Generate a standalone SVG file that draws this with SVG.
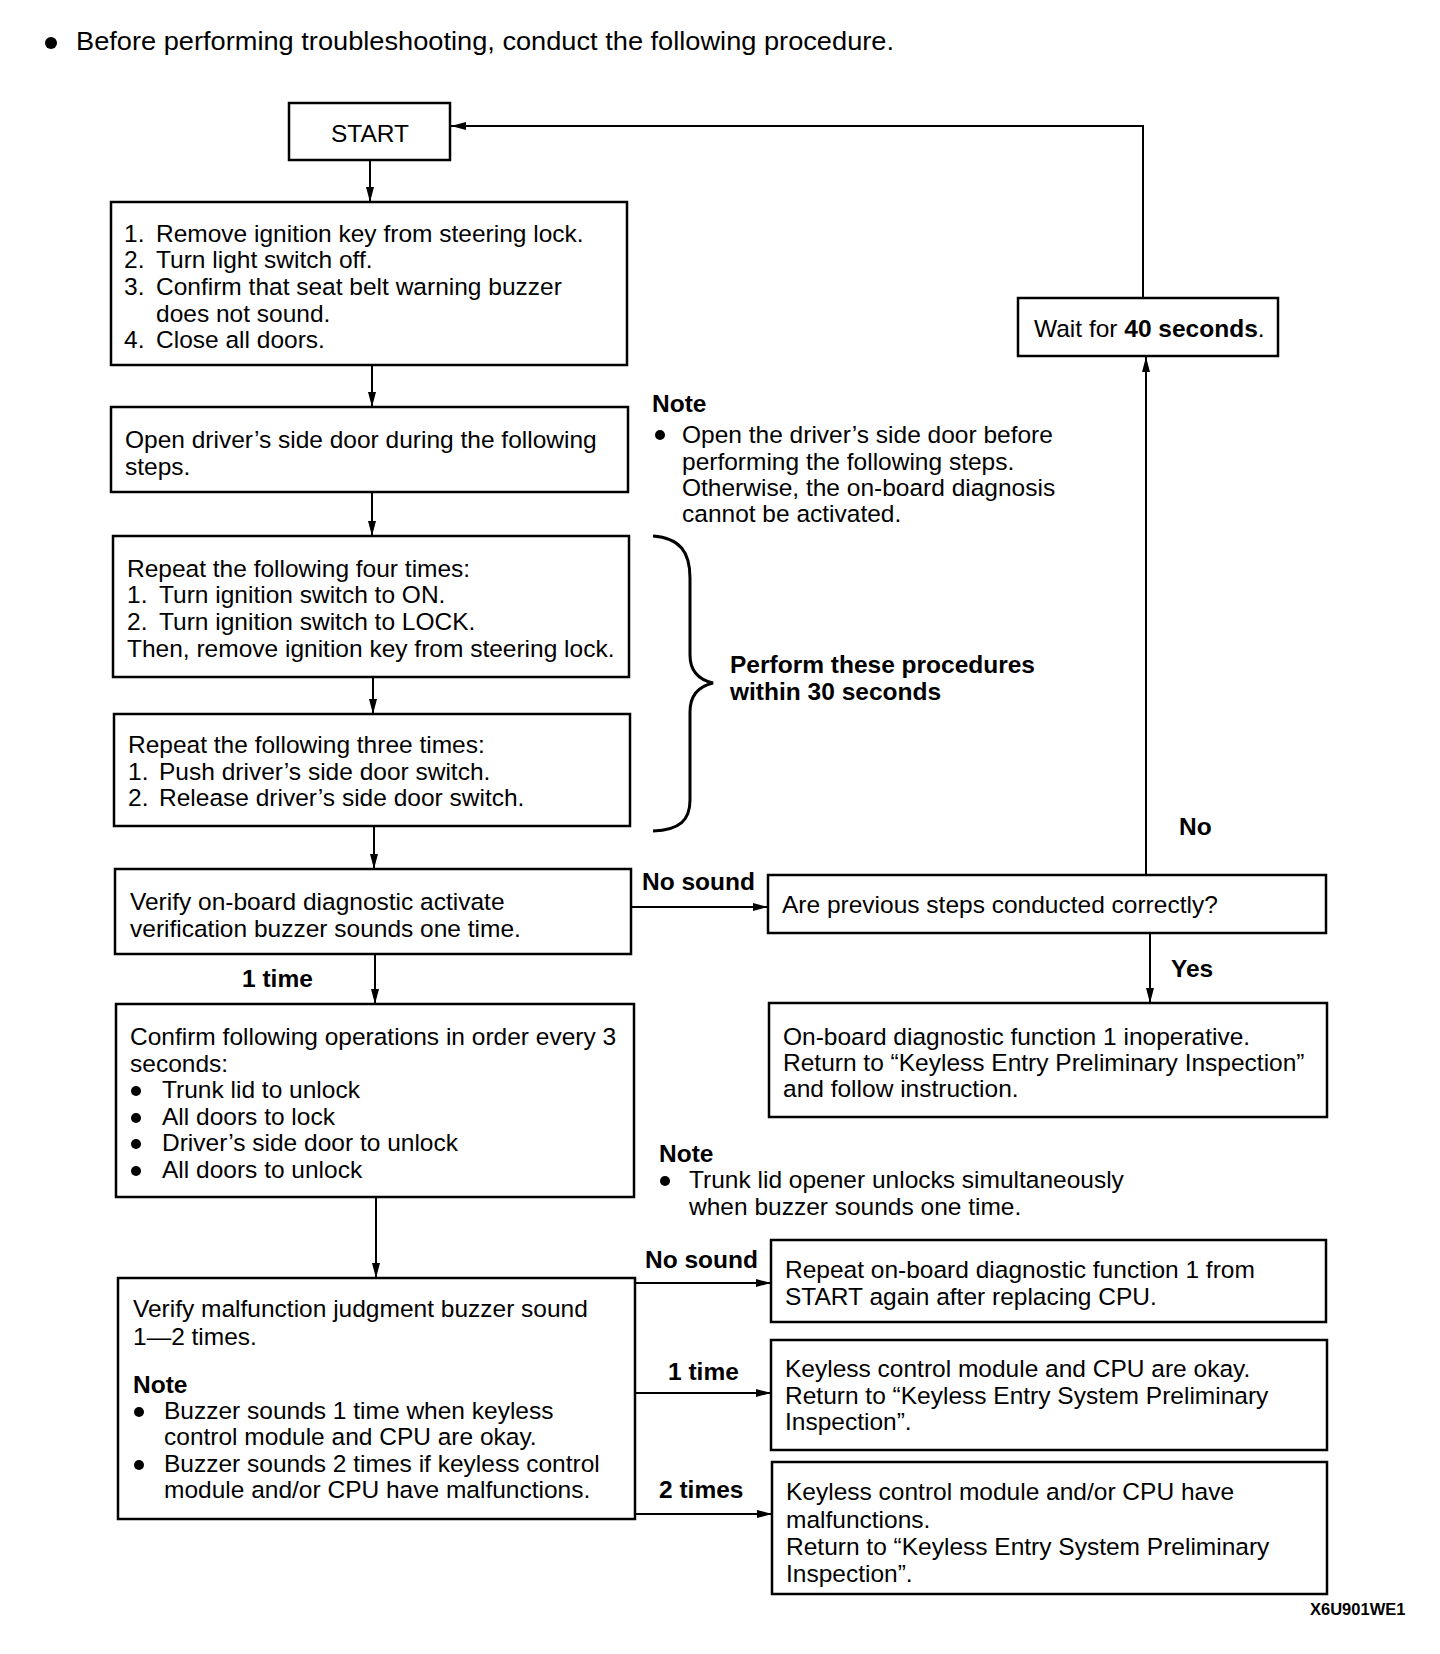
<svg xmlns="http://www.w3.org/2000/svg" width="1440" height="1654" viewBox="0 0 1440 1654">
<style>
text{font-family:"Liberation Sans",Arial,Helvetica,sans-serif;font-size:24.5px;fill:#000}
.b{font-weight:bold;font-size:24.5px}
.ttl{font-size:26px}
.code{font-weight:bold;font-size:16.5px}
.box{fill:#fff;stroke:#000;stroke-width:2.5}
.ln{stroke:#000;stroke-width:2;fill:none}
.dot{fill:#000}
</style>
<defs>
<marker id="ah" markerUnits="userSpaceOnUse" markerWidth="16" markerHeight="10" refX="15" refY="5" orient="auto">
<path d="M0,1 L15,5 L0,9 z" fill="#000"/>
</marker>
</defs>
<rect width="1440" height="1654" fill="#fff"/>

<g id="title">
<circle class="dot" cx="51" cy="43" r="6"/>
<text class="ttl" x="76" y="50" textLength="818" lengthAdjust="spacingAndGlyphs">Before performing troubleshooting, conduct the following procedure.</text>
</g>

<g id="connectors">
<line class="ln" x1="370" y1="160" x2="370" y2="202" marker-end="url(#ah)"/>
<line class="ln" x1="372" y1="365" x2="372" y2="407" marker-end="url(#ah)"/>
<line class="ln" x1="372" y1="492" x2="372" y2="536" marker-end="url(#ah)"/>
<line class="ln" x1="373" y1="677" x2="373" y2="714" marker-end="url(#ah)"/>
<line class="ln" x1="374" y1="826" x2="374" y2="869" marker-end="url(#ah)"/>
<line class="ln" x1="375" y1="954" x2="375" y2="1004" marker-end="url(#ah)"/>
<line class="ln" x1="376" y1="1197" x2="376" y2="1278" marker-end="url(#ah)"/>
<polyline class="ln" points="1143,298 1143,126 451,126" marker-end="url(#ah)"/>
<line class="ln" x1="1146" y1="875" x2="1146" y2="357" marker-end="url(#ah)"/>
<line class="ln" x1="631" y1="907" x2="768" y2="907" marker-end="url(#ah)"/>
<line class="ln" x1="1150" y1="933" x2="1150" y2="1003" marker-end="url(#ah)"/>
<line class="ln" x1="635" y1="1283" x2="771" y2="1283" marker-end="url(#ah)"/>
<line class="ln" x1="635" y1="1393" x2="771" y2="1393" marker-end="url(#ah)"/>
<line class="ln" x1="635" y1="1514" x2="772" y2="1514" marker-end="url(#ah)"/>
<path d="M653,536 C680,538 690,552 690,578 L690,655 C690,672 700,680 713,683 C700,686 690,694 690,712 L690,800 C690,820 680,830 653,831" fill="none" stroke="#000" stroke-width="3"/>
</g>

<g id="start">
<rect class="box" x="289" y="103" width="161" height="57"/>
<text x="370" y="142" text-anchor="middle">START</text>
</g>

<g id="step1">
<rect class="box" x="111" y="202" width="516" height="163"/>
<text x="124" y="242">1.<tspan x="156">Remove ignition key from steering lock.</tspan></text>
<text x="124" y="268">2.<tspan x="156">Turn light switch off.</tspan></text>
<text x="124" y="295">3.<tspan x="156">Confirm that seat belt warning buzzer</tspan></text>
<text x="156" y="322">does not sound.</text>
<text x="124" y="348">4.<tspan x="156">Close all doors.</tspan></text>
</g>

<g id="step2">
<rect class="box" x="111" y="407" width="517" height="85"/>
<text x="125" y="448">Open driver’s side door during the following</text>
<text x="125" y="475">steps.</text>
</g>

<g id="note1">
<text class="b" x="652" y="412">Note</text>
<circle class="dot" cx="660" cy="435" r="5"/>
<text x="682" y="443">Open the driver’s side door before</text>
<text x="682" y="470">performing the following steps.</text>
<text x="682" y="496">Otherwise, the on-board diagnosis</text>
<text x="682" y="522">cannot be activated.</text>
</g>

<g id="step3">
<rect class="box" x="113" y="536" width="516" height="141"/>
<text x="127" y="577">Repeat the following four times:</text>
<text x="127" y="603">1.<tspan x="159">Turn ignition switch to ON.</tspan></text>
<text x="127" y="630">2.<tspan x="159">Turn ignition switch to LOCK.</tspan></text>
<text x="127" y="657">Then, remove ignition key from steering lock.</text>
</g>

<g id="step4">
<rect class="box" x="114" y="714" width="516" height="112"/>
<text x="128" y="753">Repeat the following three times:</text>
<text x="128" y="780">1.<tspan x="159">Push driver’s side door switch.</tspan></text>
<text x="128" y="806">2.<tspan x="159">Release driver’s side door switch.</tspan></text>
</g>

<g id="brace-label">
<text class="b" x="730" y="673">Perform these procedures</text>
<text class="b" x="730" y="700">within 30 seconds</text>
</g>

<g id="wait">
<rect class="box" x="1018" y="298" width="260" height="58"/>
<text x="1034" y="337">Wait for <tspan class="b">40 seconds</tspan>.</text>
</g>

<g id="step5">
<rect class="box" x="115" y="869" width="516" height="85"/>
<text x="130" y="910">Verify on-board diagnostic activate</text>
<text x="130" y="937">verification buzzer sounds one time.</text>
</g>

<g id="labels">
<text class="b" x="1179" y="835">No</text>
<text class="b" x="642" y="890">No sound</text>
<text class="b" x="1171" y="977">Yes</text>
<text class="b" x="242" y="987">1 time</text>
<text class="b" x="645" y="1268">No sound</text>
<text class="b" x="668" y="1380">1 time</text>
<text class="b" x="659" y="1498">2 times</text>
</g>

<g id="check">
<rect class="box" x="768" y="875" width="558" height="58"/>
<text x="782" y="913">Are previous steps conducted correctly?</text>
</g>

<g id="inoperative">
<rect class="box" x="769" y="1003" width="558" height="114"/>
<text x="783" y="1045">On-board diagnostic function 1 inoperative.</text>
<text x="783" y="1071">Return to “Keyless Entry Preliminary Inspection”</text>
<text x="783" y="1097">and follow instruction.</text>
</g>

<g id="step6">
<rect class="box" x="116" y="1004" width="518" height="193"/>
<text x="130" y="1045">Confirm following operations in order every 3</text>
<text x="130" y="1072">seconds:</text>
<circle class="dot" cx="136" cy="1091" r="5"/>
<text x="162" y="1098">Trunk lid to unlock</text>
<circle class="dot" cx="136" cy="1118" r="5"/>
<text x="162" y="1125">All doors to lock</text>
<circle class="dot" cx="136" cy="1144" r="5"/>
<text x="162" y="1151">Driver’s side door to unlock</text>
<circle class="dot" cx="136" cy="1171" r="5"/>
<text x="162" y="1178">All doors to unlock</text>
</g>

<g id="note2">
<text class="b" x="659" y="1162">Note</text>
<circle class="dot" cx="665" cy="1181" r="5"/>
<text x="689" y="1188">Trunk lid opener unlocks simultaneously</text>
<text x="689" y="1215">when buzzer sounds one time.</text>
</g>

<g id="step7">
<rect class="box" x="118" y="1278" width="517" height="241"/>
<text x="133" y="1317">Verify malfunction judgment buzzer sound</text>
<text x="133" y="1345">1—2 times.</text>
<text class="b" x="133" y="1393">Note</text>
<circle class="dot" cx="139" cy="1412" r="5"/>
<text x="164" y="1419">Buzzer sounds 1 time when keyless</text>
<text x="164" y="1445">control module and CPU are okay.</text>
<circle class="dot" cx="139" cy="1465" r="5"/>
<text x="164" y="1472">Buzzer sounds 2 times if keyless control</text>
<text x="164" y="1498">module and/or CPU have malfunctions.</text>
</g>

<g id="replace-cpu">
<rect class="box" x="771" y="1240" width="555" height="82"/>
<text x="785" y="1278">Repeat on-board diagnostic function 1 from</text>
<text x="785" y="1305">START again after replacing CPU.</text>
</g>

<g id="okay">
<rect class="box" x="771" y="1340" width="556" height="110"/>
<text x="785" y="1377">Keyless control module and CPU are okay.</text>
<text x="785" y="1404">Return to “Keyless Entry System Preliminary</text>
<text x="785" y="1430">Inspection”.</text>
</g>

<g id="malfunction">
<rect class="box" x="772" y="1462" width="555" height="132"/>
<text x="786" y="1500">Keyless control module and/or CPU have</text>
<text x="786" y="1528">malfunctions.</text>
<text x="786" y="1555">Return to “Keyless Entry System Preliminary</text>
<text x="786" y="1582">Inspection”.</text>
</g>

<g id="code">
<text class="code" x="1310" y="1615">X6U901WE1</text>
</g>
</svg>
